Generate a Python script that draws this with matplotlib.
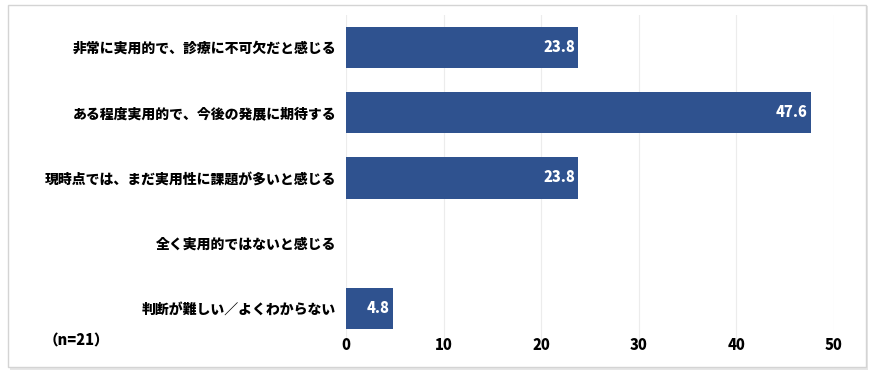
import matplotlib.pyplot as plt
from matplotlib.patches import Rectangle

plt.rcParams['font.family'] = ['Noto Sans CJK JP', 'DejaVu Sans']

categories = [
    '非常に実用的で、診療に不可欠だと感じる',
    'ある程度実用的で、今後の発展に期待する',
    '現時点では、まだ実用性に課題が多いと感じる',
    '全く実用的ではないと感じる',
    '判断が難しい／よくわからない',
]
values = [23.8, 47.6, 23.8, 0.0, 4.8]
xticks = [0, 10, 20, 30, 40, 50]
note = '（n=21）'

W, H = 877, 374
fig = plt.figure(figsize=(W / 100, H / 100), dpi=100)

# frame with soft shadow
fig.patches.append(Rectangle((10 / W, 1 - 370 / H), 858 / W, 364 / H,
                             transform=fig.transFigure, facecolor='#e6e6e6',
                             edgecolor='none', zorder=-2))
fig.patches.append(Rectangle((8 / W, 1 - 367 / H), 858 / W, 362 / H,
                             transform=fig.transFigure, facecolor='white',
                             edgecolor='#d4d4d4', linewidth=1, zorder=-1))

left, right = 346, 834
top, bottom = 15, 341
ax = fig.add_axes([left / W, 1 - bottom / H, (right - left) / W, (bottom - top) / H])
ax.set_facecolor('none')

color = '#2f528f'
ypos = list(range(len(categories)))
ax.barh(ypos, values, height=0.63, color=color, zorder=3)
for y, v in zip(ypos, values):
    if v > 0:
        ax.text(v - 0.35, y, f'{v:.1f}', ha='right', va='center', color='white',
                fontsize=10.5, fontweight='black', zorder=4)

ax.set_xlim(0, 50)
ax.set_ylim(len(categories) - 0.5, -0.5)
ax.set_xticks(xticks)
ax.set_xticklabels([str(t) for t in xticks], fontsize=10.5, fontweight='black')
ax.set_yticks(ypos)
ax.set_yticklabels(categories, fontsize=10, fontweight='black')
ax.tick_params(length=0, pad=7)
ax.tick_params(axis='x', pad=-2)
ax.grid(axis='x', color='#ececec', linewidth=0.8, zorder=0)
for s in ax.spines.values():
    s.set_visible(False)

fig.text(44 / W, 1 - 341 / H, note, ha='left', va='center', fontsize=10.5,
         fontweight='black')

fig.savefig('out.png', dpi=100)
